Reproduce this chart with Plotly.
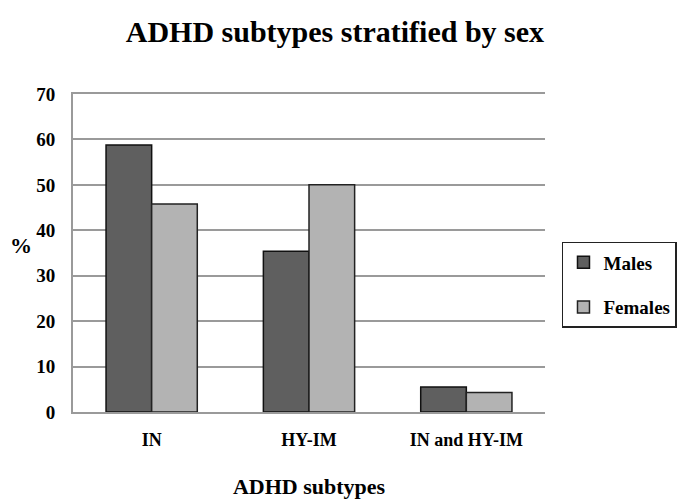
import plotly.graph_objects as go

categories = ["IN", "HY-IM", "IN and HY-IM"]
males = [58.8, 35.4, 5.5]
females = [45.8, 50.0, 4.3]
y_ticks = [0, 10, 20, 30, 40, 50, 60, 70]

FONT = "Liberation Serif"

fig = go.Figure()
fig.add_trace(go.Bar(name="Males", x=categories, y=males, legendgroup="m",
                     marker=dict(color="#5f5f5f", line=dict(color="#111111", width=1.5))))
fig.add_trace(go.Bar(name="Females", x=categories, y=females, legendgroup="f",
                     marker=dict(color="#b3b3b3", line=dict(color="#222222", width=1.5))))

fig.update_layout(
    width=678, height=500,
    margin=dict(l=73, r=133, t=94, b=88, autoexpand=False),
    paper_bgcolor="white", plot_bgcolor="white",
    barmode="group", bargap=0.42, bargroupgap=0,
    font=dict(family=FONT, color="black"),
    title=dict(text="<b>ADHD subtypes stratified by sex</b>", x=0.494, xanchor="center",
               y=0.937, yanchor="middle", font=dict(family=FONT, size=30, color="black")),
    legend=dict(x=1.036, y=0.535, xanchor="left", yanchor="top",
                bordercolor="#222222", borderwidth=1.5,
                font=dict(family=FONT, size=19, color="black", weight="bold"),
                itemwidth=30, tracegroupgap=17),
    xaxis=dict(showline=True, linecolor="#9a9a9a", linewidth=2, mirror=True, automargin=False,
               tickfont=dict(family=FONT, size=18, color="black", weight="bold"),
               ticks="", ticklabelstandoff=10,
               title=dict(text="ADHD subtypes", standoff=30,
                          font=dict(family=FONT, size=22, color="black", weight="bold"))),
    yaxis=dict(range=[0, 70], tickvals=y_ticks, showgrid=True, gridcolor="#9a9a9a", gridwidth=2,
               showline=True, linecolor="#9a9a9a", linewidth=2, zeroline=False, automargin=False,
               tickfont=dict(family=FONT, size=19, color="black", weight="bold"), ticks="",
               ticklabelstandoff=12),
    annotations=[dict(text="%", xref="paper", yref="paper", x=-0.11, y=0.525,
                      xanchor="center", yanchor="middle", showarrow=False,
                      font=dict(family=FONT, size=22, color="black", weight="bold"))],
)

fig.write_html("out.html", config={"displayModeBar": False},
               post_script="document.body.style.margin='0';")
